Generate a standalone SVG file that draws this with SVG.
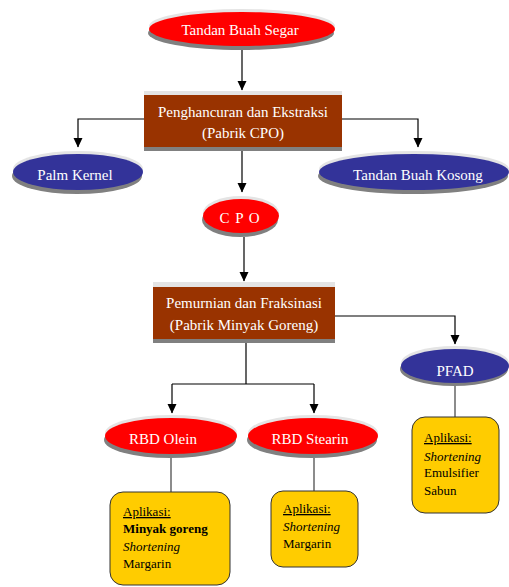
<svg xmlns="http://www.w3.org/2000/svg" width="509" height="587" viewBox="0 0 509 587">
<style>
.hi{fill:#E4E4E4}
.sh{fill:#808080}
.red{fill:#FF0000}
.blue{fill:#333399}
.brown{fill:#993300}
.app{fill:#FFCC00;stroke:#333333;stroke-width:1}
text{font-family:'Liberation Serif','DejaVu Serif',serif}
.lbl{font-size:15px;fill:#FFFFFF;text-anchor:middle}
.t{font-size:13px;fill:#000000}
.ar{fill:none;stroke:#000000;stroke-width:1.2}
.gl{fill:none;stroke:#666666;stroke-width:1.5}
</style>
<defs>
<marker id="ah" markerWidth="10" markerHeight="10" refX="9" refY="5" orient="auto" markerUnits="userSpaceOnUse">
<path d="M0,0.5 L9.5,5 L0,9.5 Z" fill="#000000"/>
</marker>
</defs>
<g id="connectors">
<path class="ar" d="M242,50 L242,90" marker-end="url(#ah)"/>
<path class="ar" d="M144,119 L78,119 L78,147" marker-end="url(#ah)"/>
<path class="ar" d="M342,119 L418,119 L418,147" marker-end="url(#ah)"/>
<path class="ar" d="M242,151 L242,192" marker-end="url(#ah)"/>
<path class="ar" d="M244,237 L244,281" marker-end="url(#ah)"/>
<path class="ar" d="M335,316 L455,316 L455,344" marker-end="url(#ah)"/>
<path class="ar" d="M246,343 L246,384"/>
<path class="ar" d="M172,384 L314,384"/>
<path class="ar" d="M172,384 L172,413" marker-end="url(#ah)"/>
<path class="ar" d="M314,384 L314,413" marker-end="url(#ah)"/>
<path class="gl" d="M455,385 L455,417"/>
<path class="gl" d="M171,458 L171,492"/>
<path class="gl" d="M314,458 L314,491"/>
</g>
<g id="tbs">
<ellipse class="hi" cx="242" cy="26" rx="93" ry="17"/>
<ellipse class="sh" cx="241" cy="33" rx="93" ry="17"/>
<ellipse class="red" cx="242" cy="29" rx="93" ry="17"/>
<text class="lbl" x="240" y="35">Tandan Buah Segar</text>
</g>
<g id="pabrik-cpo">
<rect class="hi" x="144" y="91" width="198" height="10"/>
<rect class="sh" x="144" y="141" width="198" height="10"/>
<rect class="brown" x="144" y="95" width="198" height="52"/>
<text class="lbl" x="243" y="117">Penghancuran dan Ekstraksi</text>
<text class="lbl" x="243" y="138">(Pabrik CPO)</text>
</g>
<g id="palm-kernel">
<ellipse class="hi" cx="78" cy="169" rx="65" ry="18"/>
<ellipse class="sh" cx="77" cy="176" rx="65" ry="18"/>
<ellipse class="blue" cx="78" cy="172" rx="65" ry="18"/>
<text class="lbl" x="75" y="180">Palm Kernel</text>
</g>
<g id="tbk">
<ellipse class="hi" cx="414" cy="169" rx="95" ry="18"/>
<ellipse class="sh" cx="413" cy="176" rx="95" ry="18"/>
<ellipse class="blue" cx="414" cy="172" rx="95" ry="18"/>
<text class="lbl" x="418" y="180">Tandan Buah Kosong</text>
</g>
<g id="cpo">
<ellipse class="hi" cx="241" cy="213" rx="38" ry="17"/>
<ellipse class="sh" cx="240" cy="220" rx="38" ry="17"/>
<ellipse class="red" cx="241" cy="216" rx="38" ry="17"/>
<text class="lbl" x="240" y="223" letter-spacing="1">C P O</text>
</g>
<g id="pabrik-minyak">
<rect class="hi" x="153" y="282" width="182" height="10"/>
<rect class="sh" x="153" y="333" width="182" height="10"/>
<rect class="brown" x="153" y="287" width="182" height="52"/>
<text class="lbl" x="244" y="308">Pemurnian dan Fraksinasi</text>
<text class="lbl" x="244" y="330">(Pabrik Minyak Goreng)</text>
</g>
<g id="pfad">
<ellipse class="hi" cx="455" cy="363" rx="54" ry="17"/>
<ellipse class="sh" cx="454" cy="369" rx="54" ry="17"/>
<ellipse class="blue" cx="455" cy="366" rx="54" ry="17"/>
<text class="lbl" x="455" y="376">PFAD</text>
</g>
<g id="rbd-olein">
<ellipse class="hi" cx="171" cy="433" rx="66" ry="18"/>
<ellipse class="sh" cx="170" cy="440" rx="66" ry="18"/>
<ellipse class="red" cx="171" cy="436" rx="66" ry="18"/>
<text class="lbl" x="163" y="444">RBD Olein</text>
</g>
<g id="rbd-stearin">
<ellipse class="hi" cx="313" cy="433" rx="65" ry="18"/>
<ellipse class="sh" cx="312" cy="440" rx="65" ry="18"/>
<ellipse class="red" cx="313" cy="436" rx="65" ry="18"/>
<text class="lbl" x="310" y="444">RBD Stearin</text>
</g>
<g id="app-pfad">
<rect class="app" x="412" y="417" width="87" height="96" rx="13"/>
<text class="t" x="424" y="442" text-decoration="underline">Aplikasi:</text>
<text class="t" x="424" y="461" font-style="italic">Shortening</text>
<text class="t" x="424" y="477">Emulsifier</text>
<text class="t" x="424" y="495">Sabun</text>
</g>
<g id="app-olein">
<rect class="app" x="110" y="492" width="120" height="93" rx="13"/>
<text class="t" x="123" y="516" text-decoration="underline">Aplikasi:</text>
<text class="t" x="123" y="533" font-weight="bold">Minyak goreng</text>
<text class="t" x="123" y="551" font-style="italic">Shortening</text>
<text class="t" x="123" y="568">Margarin</text>
</g>
<g id="app-stearin">
<rect class="app" x="271" y="491" width="87" height="76" rx="12"/>
<text class="t" x="283" y="513" text-decoration="underline">Aplikasi:</text>
<text class="t" x="283" y="531" font-style="italic">Shortening</text>
<text class="t" x="283" y="548">Margarin</text>
</g>
</svg>
